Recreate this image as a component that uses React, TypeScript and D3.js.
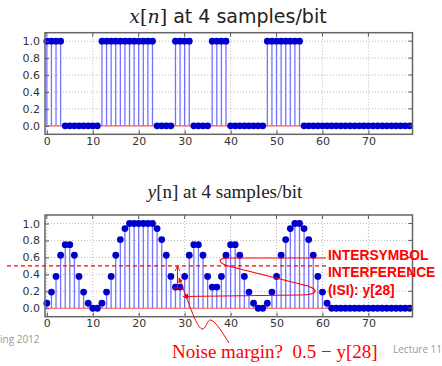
import { useEffect, useRef } from "react";
import * as d3 from "d3";

// x[n]: 20 bits, 4 samples per bit
const xValues = [
  1, 1, 1, 1, 0, 0, 0, 0, 0, 0, 0, 0, 1, 1, 1, 1, 1, 1, 1, 1,
  1, 1, 1, 1, 0, 0, 0, 0, 1, 1, 1, 1, 0, 0, 0, 0, 1, 1, 1, 1,
  0, 0, 0, 0, 0, 0, 0, 0, 1, 1, 1, 1, 1, 1, 1, 1, 0, 0, 0, 0,
  0, 0, 0, 0, 0, 0, 0, 0, 0, 0, 0, 0, 0, 0, 0, 0, 0, 0, 0, 0,
];

// y[n]: channel output
const yValues = [
  0.06, 0.19, 0.375, 0.625, 0.75, 0.75, 0.625, 0.375, 0.19, 0.06,
  0, 0, 0.06, 0.19, 0.375, 0.625, 0.81, 0.94, 1, 1,
  1, 1, 1, 1, 0.94, 0.81, 0.625, 0.375, 0.25, 0.25,
  0.375, 0.625, 0.75, 0.75, 0.625, 0.375, 0.25, 0.25, 0.375, 0.625,
  0.75, 0.75, 0.625, 0.375, 0.19, 0.06, 0, 0, 0.06, 0.19,
  0.375, 0.625, 0.81, 0.94, 1, 1, 0.94, 0.81, 0.625, 0.375,
  0.19, 0.06, 0, 0, 0, 0, 0, 0, 0, 0,
  0, 0, 0, 0, 0, 0, 0, 0, 0, 0,
];

const xTicks = [0, 10, 20, 30, 40, 50, 60, 70];
const yTicks = [0, 0.2, 0.4, 0.6, 0.8, 1.0];
const threshold = 0.5;
const isiSample = 28;
const isiLines = ["INTERSYMBOL", "INTERFERENCE", "(ISI): y[28]"];

const W = 442;
const H = 366;

const App = () => {
  const svgRef = useRef<SVGSVGElement>(null);

  useEffect(() => {
    const svg = d3.select(svgRef.current);
    svg.selectAll("*").remove();

    svg.append("rect").attr("width", W).attr("height", H).attr("fill", "white");

    const drawStem = (values: number[], top: number, bottom: number) => {
      const x = d3.scaleLinear().domain([-0.4, 79.6]).range([45, 412.5]);
      const y = d3.scaleLinear().domain([-0.1, 1.1]).range([bottom, top]);
      const g = svg.append("g");

      // dotted grid
      g.selectAll(".gx")
        .data(xTicks)
        .enter()
        .append("line")
        .attr("x1", (d) => x(d))
        .attr("x2", (d) => x(d))
        .attr("y1", top)
        .attr("y2", bottom)
        .attr("stroke", "#aaa")
        .attr("stroke-width", 0.8)
        .attr("stroke-dasharray", "1,2");
      g.selectAll(".gy")
        .data(yTicks)
        .enter()
        .append("line")
        .attr("x1", x.range()[0])
        .attr("x2", x.range()[1])
        .attr("y1", (d) => y(d))
        .attr("y2", (d) => y(d))
        .attr("stroke", "#aaa")
        .attr("stroke-width", 0.8)
        .attr("stroke-dasharray", "1,2");

      // stems
      g.selectAll(".stem")
        .data(values)
        .enter()
        .append("line")
        .attr("x1", (_d, i) => x(i))
        .attr("x2", (_d, i) => x(i))
        .attr("y1", y(0))
        .attr("y2", (d) => y(d))
        .attr("stroke", "#5a5aff")
        .attr("stroke-opacity", 0.85)
        .attr("stroke-width", 1.3);

      // baseline
      g.append("line")
        .attr("x1", x(0))
        .attr("x2", x(values.length - 1))
        .attr("y1", y(0))
        .attr("y2", y(0))
        .attr("stroke", "#ff5a5a")
        .attr("stroke-width", 1.2);

      // markers
      g.selectAll(".dot")
        .data(values)
        .enter()
        .append("circle")
        .attr("cx", (_d, i) => x(i))
        .attr("cy", (d) => y(d))
        .attr("r", 3.4)
        .attr("fill", "#0000cc");

      // axes
      const ax = g
        .append("g")
        .attr("transform", `translate(0,${bottom})`)
        .call(d3.axisBottom(x).tickValues(xTicks).tickSize(-4).tickPadding(3));
      ax.select(".domain").remove();
      ax.selectAll("line").attr("stroke", "#555");
      ax.selectAll("text")
        .style("font-family", "DejaVu Sans")
        .style("font-size", "11px")
        .attr("fill", "#333");

      const ay = g
        .append("g")
        .attr("transform", `translate(${x.range()[0]},0)`)
        .call(
          d3.axisLeft(y).tickValues(yTicks).tickSize(-4).tickPadding(5)
            .tickFormat((d) => d3.format(".1f")(d as number))
        );
      ay.select(".domain").remove();
      ay.selectAll("line").attr("stroke", "#555");
      ay.selectAll("text")
        .style("font-family", "DejaVu Sans")
        .style("font-size", "11px")
        .attr("fill", "#333");

      // right/top inner ticks
      g.selectAll(".ry")
        .data(yTicks)
        .enter()
        .append("line")
        .attr("x1", x.range()[1] - 4)
        .attr("x2", x.range()[1])
        .attr("y1", (d) => y(d))
        .attr("y2", (d) => y(d))
        .attr("stroke", "#555");
      g.selectAll(".tx")
        .data(xTicks)
        .enter()
        .append("line")
        .attr("x1", (d) => x(d))
        .attr("x2", (d) => x(d))
        .attr("y1", top)
        .attr("y2", top + 4)
        .attr("stroke", "#555");

      // frame
      g.append("rect")
        .attr("x", x.range()[0])
        .attr("y", top)
        .attr("width", x.range()[1] - x.range()[0])
        .attr("height", bottom - top)
        .attr("fill", "none")
        .attr("stroke", "#666")
        .attr("stroke-width", 1.5);

      return { x, y };
    };

    // top title
    const t1 = svg
      .append("text")
      .attr("x", 228)
      .attr("y", 22.5)
      .attr("text-anchor", "middle")
      .style("font-family", "DejaVu Sans")
      .style("font-size", "19px")
      .attr("fill", "#222");
    t1.append("tspan").style("font-family", "DejaVu Serif").style("font-style", "italic").text("x");
    t1.append("tspan").style("font-family", "DejaVu Serif").text("[");
    t1.append("tspan").style("font-family", "DejaVu Serif").style("font-style", "italic").text("n");
    t1.append("tspan").style("font-family", "DejaVu Serif").text("]");
    t1.append("tspan").text(" at 4 samples/bit");

    drawStem(xValues, 32.7, 134.3);

    // bottom title
    const t2 = svg
      .append("text")
      .attr("x", 225)
      .attr("y", 197.5)
      .attr("text-anchor", "middle")
      .style("font-family", "Liberation Serif")
      .style("font-size", "19px")
      .attr("fill", "#222");
    t2.append("tspan").style("font-style", "italic").text("y");
    t2.append("tspan").text("[n] at 4 samples/bit");

    const { x, y } = drawStem(yValues, 215, 316.7);

    // threshold dashed line
    svg.append("line")
      .attr("x1", 7)
      .attr("x2", 326)
      .attr("y1", y(threshold))
      .attr("y2", y(threshold))
      .attr("stroke", "#ff0000")
      .attr("stroke-width", 1.2)
      .attr("stroke-dasharray", "4,3");

    const red = "#ff0000";
    svg.append("defs")
      .append("marker")
      .attr("id", "head")
      .attr("viewBox", "0 0 10 10")
      .attr("refX", 9)
      .attr("refY", 5)
      .attr("markerWidth", 5)
      .attr("markerHeight", 5)
      .attr("orient", "auto-start-reverse")
      .append("path")
      .attr("d", "M0,0 L10,5 L0,10 Z")
      .attr("fill", red);
    svg.select("defs")
      .append("marker")
      .attr("id", "open")
      .attr("viewBox", "0 0 10 10")
      .attr("refX", 9)
      .attr("refY", 5)
      .attr("markerWidth", 6)
      .attr("markerHeight", 6)
      .attr("orient", "auto")
      .append("path")
      .attr("d", "M0,1 L9,5 L0,9")
      .attr("fill", "none")
      .attr("stroke", red)
      .attr("stroke-width", 1.5);

    // noise margin arrow at n = 28
    const xm = x(isiSample) + 2;
    svg.append("line")
      .attr("x1", xm)
      .attr("x2", xm)
      .attr("y1", y(0.25) + 1)
      .attr("y2", y(threshold))
      .attr("stroke", red)
      .attr("stroke-width", 1)
      .attr("marker-end", "url(#open)");
    svg.append("line")
      .attr("x1", xm - 4)
      .attr("x2", xm + 4)
      .attr("y1", y(0.25) + 1)
      .attr("y2", y(0.25) + 1)
      .attr("stroke", red)
      .attr("stroke-width", 1);

    // ISI loop arrow
    svg.append("path")
      .attr(
        "d",
        "M326,258 L228,258 C216,258 218,264 232,267 L300,284 C322,289 318,295 300,295 L183,296.5"
      )
      .attr("fill", "none")
      .attr("stroke", red)
      .attr("stroke-width", 1.2)
      .attr("marker-end", "url(#head)");

    // squiggle from noise margin label
    svg.append("path")
      .attr(
        "d",
        "M229,343 C222,332 216,322 211,320 C207,319 206,330 202,329 C196,327 188,300 179,278"
      )
      .attr("fill", "none")
      .attr("stroke", red)
      .attr("stroke-width", 1)
      .attr("marker-end", "url(#head)");

    // ISI label
    svg.append("g")
      .selectAll("text")
      .data(isiLines)
      .enter()
      .append("text")
      .attr("x", 328)
      .attr("y", (_d, i) => 259.5 + i * 17.5)
      .style("font-family", "Liberation Sans")
      .style("font-weight", "bold")
      .style("font-size", "13.8px")
      .attr("fill", red)
      .text((d) => d);

    svg.append("text")
      .attr("x", 172)
      .attr("y", 358)
      .style("font-family", "Liberation Serif")
      .style("font-size", "19px")
      .style("white-space", "pre")
      .attr("fill", red)
      .text("Noise margin?  0.5 \u2212 y[28]");

    // slide footer
    svg.append("text")
      .attr("x", 0)
      .attr("y", 343)
      .style("font-family", "Open Sans")
      .style("font-size", "10px")
      .attr("fill", "#999")
      .text("ing 2012");
    svg.append("text")
      .attr("x", 393)
      .attr("y", 353)
      .style("font-family", "Open Sans")
      .style("font-size", "10px")
      .attr("fill", "#999")
      .text("Lecture 11");
  }, []);

  return (
    <svg
      ref={svgRef}
      width={W}
      height={H}
      style={{ position: "absolute", left: 0, top: 0 }}
    ></svg>
  );
};

export default App;
